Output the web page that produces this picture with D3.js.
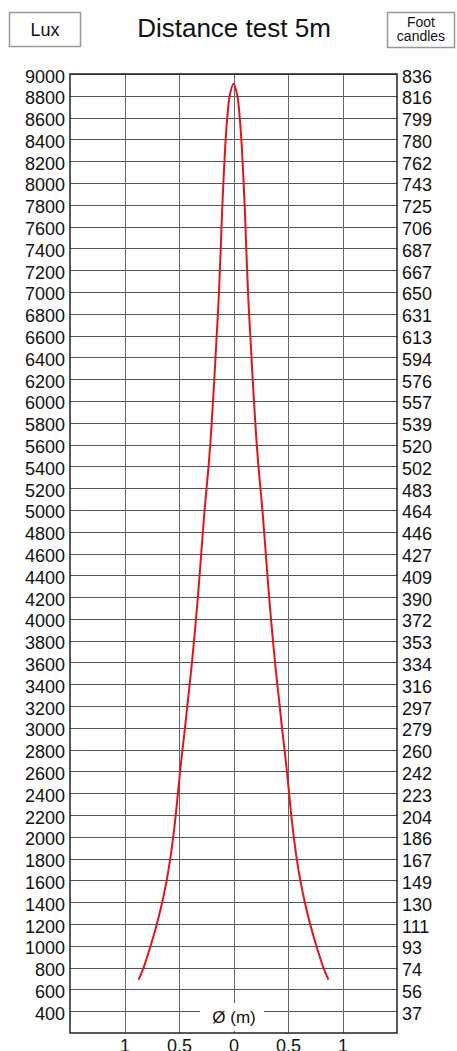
<!DOCTYPE html>
<html>
<head>
<meta charset="utf-8">
<script src="https://cdn.jsdelivr.net/npm/d3@7"></script>
<style>
    body { margin: 0; background: #fff; }
    svg { display: block; font-family: "Liberation Sans", Arial, sans-serif; }
</style>
</head>
<body>
<div id="chart"></div>
<script>
// lux gridlines / labels, top to bottom
const luxTicks = d3.range(9000, 399, -200)

// foot-candle labels matching each lux tick
const fcLabels = [836, 816, 799, 780, 762, 743, 725, 706, 687, 667, 650, 631, 613, 594, 576,
    557, 539, 520, 502, 483, 464, 446, 427, 409, 390, 372, 353, 334, 316, 297, 279, 260,
    242, 223, 204, 186, 167, 149, 130, 111, 93, 74, 56, 37]

const diamTicks = [-1, -0.5, 0, 0.5, 1]

// beam profile: diameter position (m) and illuminance (lux)
const beamPos = [-0.87, -0.825, -0.76, -0.703, -0.654, -0.613, -0.58, -0.553, -0.53, -0.51,
    -0.49, -0.468, -0.445, -0.424, -0.402, -0.381, -0.362, -0.344, -0.327, -0.311, -0.296,
    -0.281, -0.265, -0.247, -0.229, -0.213, -0.2, -0.188, -0.176, -0.165, -0.154, -0.143,
    -0.133, -0.125, -0.117, -0.11, -0.102, -0.093, -0.083, -0.072, -0.057, -0.035, 0,
    0.035, 0.057, 0.072, 0.083, 0.093, 0.102, 0.11, 0.117, 0.125, 0.133,
    0.143, 0.154, 0.165, 0.176, 0.188, 0.2, 0.213, 0.229, 0.247, 0.265, 0.281,
    0.296, 0.311, 0.327, 0.344, 0.362, 0.381, 0.402, 0.424, 0.445, 0.468, 0.49,
    0.51, 0.53, 0.553, 0.58, 0.613, 0.654, 0.703, 0.76, 0.825, 0.87]
const beamLux = [690, 800, 1000, 1200, 1400, 1600, 1800, 2000, 2200, 2400,
    2600, 2800, 3000, 3200, 3400, 3600, 3800, 4000, 4200, 4400, 4600,
    4800, 5000, 5200, 5400, 5600, 5800, 6000, 6200, 6400, 6600, 6800,
    7000, 7200, 7400, 7600, 7800, 8000, 8200, 8400, 8600, 8800, 8910,
    8800, 8600, 8400, 8200, 8000, 7800, 7600, 7400, 7200, 7000,
    6800, 6600, 6400, 6200, 6000, 5800, 5600, 5400, 5200, 5000, 4800,
    4600, 4400, 4200, 4000, 3800, 3600, 3400, 3200, 3000, 2800, 2600,
    2400, 2200, 2000, 1800, 1600, 1400, 1200, 1000, 800, 690]

const width = 457
const height = 1051
const margin = { left: 70, right: 60, top: 74, bottom: 18 }

const svg = d3.select('#chart').append('svg')
    .attr('width', width)
    .attr('height', height)

const x = d3.scaleLinear()
    .domain([-1.5, 1.5])
    .range([margin.left, width - margin.right])

const y = d3.scaleLinear()
    .domain([200, 9000])
    .range([height - margin.bottom, margin.top])

// header boxes and title
svg.append('rect')
    .attr('x', 9.5).attr('y', 12.5)
    .attr('width', 71).attr('height', 34)
    .attr('fill', 'none').attr('stroke', '#999').attr('stroke-width', 1.5)

svg.append('text')
    .attr('x', 45).attr('y', 36)
    .attr('text-anchor', 'middle')
    .attr('font-size', 18)
    .attr('fill', '#111')
    .text('Lux')

svg.append('text')
    .attr('x', 234).attr('y', 37)
    .attr('text-anchor', 'middle')
    .attr('font-size', 26)
    .attr('fill', '#111')
    .text('Distance test 5m')

svg.append('rect')
    .attr('x', 387.5).attr('y', 12.5)
    .attr('width', 67).attr('height', 35)
    .attr('fill', 'none').attr('stroke', '#999').attr('stroke-width', 1.5)

svg.append('text')
    .attr('x', 421).attr('y', 27)
    .attr('text-anchor', 'middle')
    .attr('font-size', 14)
    .attr('fill', '#111')
    .call(t => t.append('tspan').attr('x', 421).text('Foot'))
    .call(t => t.append('tspan').attr('x', 421).attr('dy', 14).text('candles'))

// grid
const grid = svg.append('g')

grid.selectAll('line.h')
    .data(luxTicks)
    .join('line')
    .classed('h', true)
    .attr('x1', x(-1.5)).attr('x2', x(1.5))
    .attr('y1', d => Math.round(y(d)) + 0.5)
    .attr('y2', d => Math.round(y(d)) + 0.5)
    .attr('stroke', '#555')

grid.selectAll('line.v')
    .data(diamTicks)
    .join('line')
    .classed('v', true)
    .attr('x1', d => Math.round(x(d)) + 0.5)
    .attr('x2', d => Math.round(x(d)) + 0.5)
    .attr('y1', y(9000)).attr('y2', y(200))
    .attr('stroke', '#666')

// white patch behind the axis title
svg.append('rect')
    .attr('x', 200).attr('y', 1003)
    .attr('width', 64).attr('height', 28)
    .attr('fill', '#fff')

svg.append('text')
    .attr('x', 234).attr('y', 1023)
    .attr('text-anchor', 'middle')
    .attr('font-size', 17)
    .attr('fill', '#111')
    .text('Ø (m)')

// frame
svg.append('rect')
    .attr('x', x(-1.5)).attr('y', y(9000))
    .attr('width', x(1.5) - x(-1.5))
    .attr('height', y(200) - y(9000))
    .attr('fill', 'none')
    .attr('stroke', '#222')
    .attr('stroke-width', 1.5)

// axes (labels only)
const styleAxis = g => g
    .call(g => g.select('.domain').remove())
    .attr('font-family', null)
    .attr('font-size', 18)
    .call(g => g.selectAll('text').attr('fill', '#111'))

svg.append('g')
    .attr('transform', `translate(${x(-1.5)}, 0)`)
    .call(d3.axisLeft(y).tickValues(luxTicks).tickSize(0).tickPadding(5)
        .tickFormat(d3.format('d')))
    .call(styleAxis)
    .call(g => g.selectAll('text').attr('dy', 8))

svg.append('g')
    .attr('transform', `translate(${x(1.5)}, 0)`)
    .call(d3.axisRight(y).tickValues(luxTicks).tickSize(0).tickPadding(5)
        .tickFormat((d, i) => fcLabels[i]))
    .call(styleAxis)
    .call(g => g.selectAll('text').attr('dy', 8))

svg.append('g')
    .attr('transform', `translate(0, ${y(200)})`)
    .call(d3.axisBottom(x).tickValues(diamTicks).tickSize(0).tickPadding(6)
        .tickFormat(d => Math.abs(d)))
    .call(styleAxis)

// beam curve
const line = d3.line()
    .x((d, i) => x(beamPos[i]))
    .y(d => y(d))
    .curve(d3.curveCatmullRom)

svg.append('path')
    .datum(beamLux)
    .attr('d', line)
    .attr('fill', 'none')
    .attr('stroke', '#e3141b')
    .attr('stroke-width', 2)
</script>
</body>
</html>
